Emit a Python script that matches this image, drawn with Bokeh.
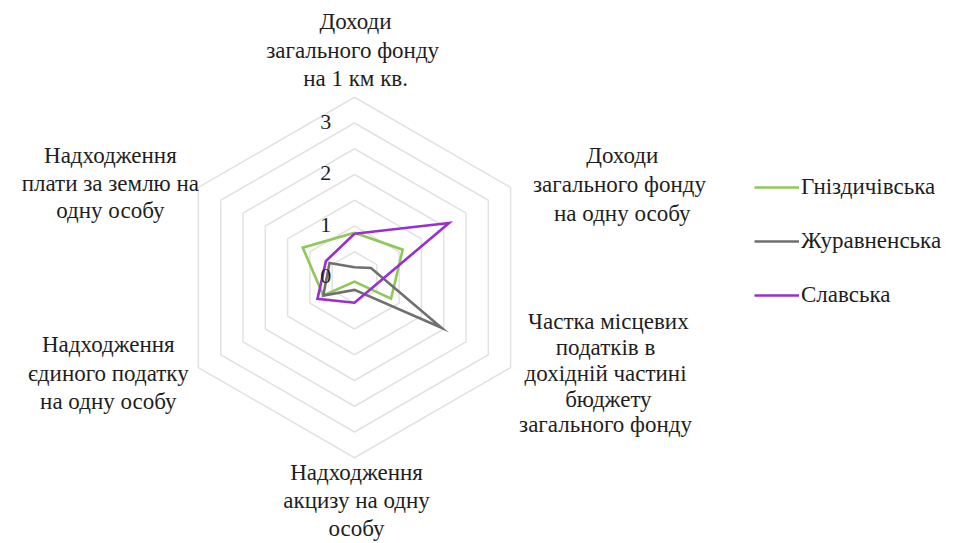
import math
from bokeh.plotting import figure
from bokeh.models import Range1d, Legend, LegendItem, ColumnDataSource
from bokeh.core.properties import value
from bokeh.embed import file_html
from bokeh.resources import INLINE

# ---------------- data ----------------
categories = [
    "Доходи\nзагального  фонду\nна 1 км кв.",
    "Доходи\nзагального  фонду\nна одну особу",
    "Частка місцевих\nподатків  в\nдохідній  частині\nбюджету\nзагального  фонду",
    "Надходження\nакцизу на одну\nособу",
    "Надходження\nєдиного податку\nна одну особу",
    "Надходження\nплати за землю на\nодну особу",
]
series_names = ["Гніздичівська", "Журавненська", "Славська"]
gnizdychivska = [0.87, 1.08, 0.82, 0.08, 0.70, 1.16]
zhuravnenska = [0.20, 0.37, 1.95, 0.24, 0.70, 0.56]
slavska = [0.85, 2.12, 0.40, 0.49, 0.83, 0.64]
ring_values = [0.5, 1.0, 1.5, 2.0, 2.5, 3.0, 3.5]
tick_values = [0, 1, 2, 3]
tick_labels = ["0", "1", "2", "3"]

# ---------------- layout / style ----------------
W, H = 956, 543
CX, CY = 354, 277          # centre of the radar in figure pixels
PX = 51.5                  # pixels per value unit
colors = ["#8fc85a", "#6f6f6f", "#9a2fd0"]
FONT = "Liberation Serif"
TXT = "#1e1e1e"

n = len(categories)
angles = [math.pi / 2 - 2 * math.pi * i / n for i in range(n)]

def polar(vals):
    xs = [v * math.cos(a) for v, a in zip(vals, angles)]
    ys = [v * math.sin(a) for v, a in zip(vals, angles)]
    return xs + xs[:1], ys + ys[:1]

p = figure(width=W, height=H, output_backend="svg", toolbar_location=None,
           x_range=Range1d(-CX / PX, (W - CX) / PX),
           y_range=Range1d(-(H - CY) / PX, CY / PX),
           min_border=0, outline_line_color=None,
           background_fill_color="white", border_fill_color="white")
p.axis.visible = False
p.grid.visible = False

# grid rings
for r in ring_values:
    xs, ys = polar([r] * n)
    p.line(xs, ys, line_color="#e2e2e2", line_width=1.5)

# series
renderers = []
for name, vals, c in zip(series_names, [gnizdychivska, zhuravnenska, slavska], colors):
    xs, ys = polar(vals)
    r = p.line(xs, ys, line_color=c, line_width=2.6, line_join="miter")
    renderers.append(r)

# radial tick labels
p.text(x=[-0.45] * len(tick_values), y=[t + 0.02 for t in tick_values], text=tick_labels,
       text_font=value(FONT), text_font_size="22px", text_color=TXT,
       text_align="right", text_baseline="middle")

# category labels (block centres in value units)
label_pos = [(0.02, 4.41), (5.20, 1.81), (4.93, -1.86), (0.04, -4.33), (-4.78, -1.86), (-4.74, 1.83)]
line_h = [1.14, 1.16, 1.03, 1.13, 1.14, 1.10]
src = ColumnDataSource(dict(x=[q[0] for q in label_pos], y=[q[1] for q in label_pos],
                            t=categories, lh=line_h))
p.text(x="x", y="y", text="t", source=src,
       text_font=value(FONT), text_font_size="23px", text_color=TXT,
       text_align="center", text_baseline="middle", text_line_height="lh")

legend = Legend(items=[LegendItem(label=nm, renderers=[r]) for nm, r in zip(series_names, renderers)],
                location=(754, 235), orientation="vertical",
                glyph_width=45, glyph_height=20, label_height=20, spacing=28,
                label_standoff=2, padding=10, margin=0,
                label_text_font=FONT, label_text_font_size="23px", label_text_color=TXT,
                border_line_color=None, background_fill_alpha=0)
p.add_layout(legend, "center")

open("out.html", "w").write(file_html(p, INLINE))
